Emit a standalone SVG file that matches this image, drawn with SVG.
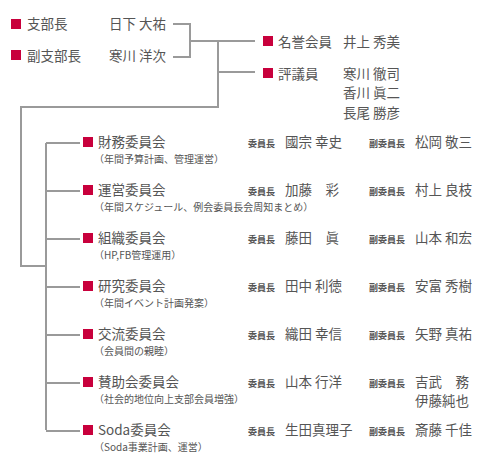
<svg xmlns="http://www.w3.org/2000/svg" width="500" height="466" viewBox="0 0 500 466">
<style>
text{font-family:"Noto Sans CJK JP","Noto Sans CJK SC",sans-serif;fill:#555}
.t{font-size:13.5px}
.s{font-size:10px}
.l{font-size:9px;font-weight:bold}
.sq{fill:#c8003c}
.c{fill:none;stroke:#9a9a9a;stroke-width:2}
</style>
<rect width="500" height="466" fill="#fff"/>
<g id="connectors" class="c">
<path d="M173,24H190V57H173"/>
<path d="M190,41H255"/>
<path d="M218,41V107H21V266H46"/>
<path d="M218,72H255"/>
<path d="M46,143V430"/>
<path d="M46,143H80M46,191H80M46,239H80M46,287H80M46,335H80M46,383H80M46,431H80"/>
</g>
<g id="shibucho"><rect class="sq" x="11" y="19" width="10" height="10"/><text class="t" x="27" y="29">支部長</text><text class="t" x="109" y="29">日下 大祐</text></g>
<g id="fukushibucho"><rect class="sq" x="11" y="50" width="10" height="10"/><text class="t" x="27" y="60.5">副支部長</text><text class="t" x="109" y="60.5">寒川 洋次</text></g>
<g id="meiyo"><rect class="sq" x="263" y="36" width="10" height="10"/><text class="t" x="278" y="46.5">名誉会員</text><text class="t" x="343" y="46.5">井上 秀美</text></g>
<g id="hyogiin"><rect class="sq" x="263" y="68" width="10" height="10"/><text class="t" x="278" y="78.5">評議員</text><text class="t" x="343" y="78.5">寒川 徹司</text><text class="t" x="343" y="98">香川 眞二</text><text class="t" x="343" y="117.5">長尾 勝彦</text></g>
<g id="zaimu"><rect class="sq" x="83" y="137" width="10" height="10"/><text class="t" x="98" y="147">財務委員会</text><text class="s" x="94" y="162.5">（年間予算計画、管理運営）</text><text class="l" x="248" y="147">委員長</text><text class="t" x="285" y="147">國宗 幸史</text><text class="l" x="369" y="147">副委員長</text><text class="t" x="415" y="147">松岡 敬三</text></g>
<g id="unei"><rect class="sq" x="83" y="185" width="10" height="10"/><text class="t" x="98" y="195">運営委員会</text><text class="s" x="94" y="210.5">（年間スケジュール、例会委員長会周知まとめ）</text><text class="l" x="248" y="195">委員長</text><text class="t" x="285" y="195">加藤　彩</text><text class="l" x="369" y="195">副委員長</text><text class="t" x="415" y="195">村上 良枝</text></g>
<g id="soshiki"><rect class="sq" x="83" y="233" width="10" height="10"/><text class="t" x="98" y="243">組織委員会</text><text class="s" x="94" y="258.5">（HP,FB管理運用）</text><text class="l" x="248" y="243">委員長</text><text class="t" x="285" y="243">藤田　眞</text><text class="l" x="369" y="243">副委員長</text><text class="t" x="415" y="243">山本 和宏</text></g>
<g id="kenkyu"><rect class="sq" x="83" y="281" width="10" height="10"/><text class="t" x="98" y="291">研究委員会</text><text class="s" x="94" y="306.5">（年間イベント計画発案）</text><text class="l" x="248" y="291">委員長</text><text class="t" x="285" y="291">田中 利徳</text><text class="l" x="369" y="291">副委員長</text><text class="t" x="415" y="291">安富 秀樹</text></g>
<g id="koryu"><rect class="sq" x="83" y="329" width="10" height="10"/><text class="t" x="98" y="339">交流委員会</text><text class="s" x="94" y="354.5">（会員間の親睦）</text><text class="l" x="248" y="339">委員長</text><text class="t" x="285" y="339">織田 幸信</text><text class="l" x="369" y="339">副委員長</text><text class="t" x="415" y="339">矢野 真祐</text></g>
<g id="sanjokai"><rect class="sq" x="83" y="377" width="10" height="10"/><text class="t" x="98" y="387">賛助会委員会</text><text class="s" x="94" y="402.5">（社会的地位向上支部会員増強）</text><text class="l" x="248" y="387">委員長</text><text class="t" x="285" y="387">山本 行洋</text><text class="l" x="369" y="387">副委員長</text><text class="t" x="415" y="387">吉武　務</text><text class="t" x="415" y="406">伊藤純也</text></g>
<g id="soda"><rect class="sq" x="83" y="425" width="10" height="10"/><text class="t" x="98" y="435">Soda委員会</text><text class="s" x="94" y="450.5">（Soda事業計画、運営）</text><text class="l" x="248" y="435">委員長</text><text class="t" x="285" y="435">生田真理子</text><text class="l" x="369" y="435">副委員長</text><text class="t" x="415" y="435">斎藤 千佳</text></g>
</svg>
